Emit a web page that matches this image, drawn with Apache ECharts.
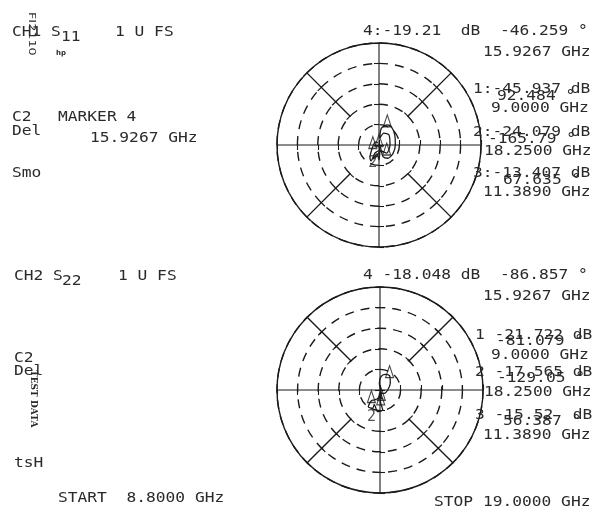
<!DOCTYPE html>
<html>
<head>
<meta charset="utf-8">
<script src="https://cdn.jsdelivr.net/npm/echarts@6/dist/echarts.min.js"></script>
<style>
  html, body { margin: 0; padding: 0; background: #fff; }
  #chart { width: 594px; height: 515px; }
</style>
</head>
<body>
<div id="chart"></div>
<script>
// S11 trace, 8.8 - 19 GHz (linear magnitude, degrees)
const s11Mag = [0.011, 0.005, 0.036, 0.121, 0.157, 0.160, 0.160, 0.183, 0.216, 0.2135, 0.165, 0.066, 0.127, 0.139,
  0.108, 0.1096, 0.062, 0.121, 0.149, 0.090, 0.147, 0.050, 0.088, 0.175, 0.155, 0.0626, 0.042, 0.022];
const s11Ang = [63, 92.5, -62.7, -71.1, -55.9, -30.7, 0, 32.5, 56.1, 67.6, 82.2, 84, 67.4, 45,
  0, -46.3, -71.6, -104, -113, -102.5, -90, -78.7, -116.6, -116.6, -124.7, -165.8, 135, 116.6];

// S22 trace
const s22Mag = [0.090, 0.082, 0.019, 0.065, 0.130, 0.160, 0.1675, 0.119, 0.075, 0.053, 0.030, 0.1252, 0.196,
  0.212, 0.150, 0.191, 0.198, 0.1323, 0.112, 0.082, 0.050];
const s22Ang = [-70, -81.1, -59.5, 96, 85.7, 72.3, 56.4, 33, 0, -37.5, -100, -86.9, -82.3,
  -96, -111.7, -111.7, -125, -129, -119.7, -101.6, -90];

// markers 1..4
const markerNo = ['1', '2', '3', '4'];
const markerGHz = [9.0, 18.25, 11.389, 15.9267];
const s11MkDb = [-45.937, -24.079, -13.407, -19.21];
const s11MkDeg = [92.484, -165.79, 67.635, -46.259];
const s22MkDb = [-21.722, -17.565, -15.52, -18.048];
const s22MkDeg = [-81.079, -129.05, 56.387, -86.857];

const INK = '#1a1a1a';
const TXT = '#2a2a2a';
const norm = a => (a < 0 ? a + 360 : a);

const polars = [];
const angleAxes = [];
const radiusAxes = [];

const hiddenAngle = {
  axisLine: {show: false}, axisTick: {show: false}, axisLabel: {show: false}, splitLine: {show: false},
};

function addChart(cx, cy, R) {
  const main = polars.length;
  polars.push({center: [cx, cy], radius: R});
  angleAxes.push({
    polarIndex: main, type: 'value', min: 0, max: 360, interval: 90, startAngle: 0, clockwise: false,
    axisLine: {lineStyle: {color: INK, width: 1.4}},
    axisTick: {show: false}, axisLabel: {show: false},
    splitLine: {show: true, lineStyle: {color: INK, width: 1.1}},
  });
  radiusAxes.push({
    polarIndex: main, min: 0, max: 1, interval: 0.2,
    axisLine: {show: false}, axisTick: {show: false}, axisLabel: {show: false},
    splitLine: {show: true, lineStyle: {color: INK, width: 1.4, type: [9, 7]}},
  });
  // ticks along the cross
  [0, 90, 180, 270].forEach(a => {
    const i = polars.length;
    polars.push({center: [cx, cy], radius: R});
    angleAxes.push(Object.assign({polarIndex: i, type: 'value', min: 0, max: 360, startAngle: a}, hiddenAngle));
    radiusAxes.push({
      polarIndex: i, min: 0, max: 1, interval: 0.2,
      axisLine: {show: false}, axisLabel: {show: false}, splitLine: {show: false},
      axisTick: {show: true, length: 5, lineStyle: {color: INK, width: 1.1}},
    });
  });
  // diagonal arms from 0.4 to the rim
  [45, 135, 225, 315].forEach(a => {
    const i = polars.length;
    polars.push({center: [cx, cy], radius: [0.4 * R, R]});
    angleAxes.push(Object.assign({polarIndex: i, type: 'value', min: 0, max: 360, startAngle: a}, hiddenAngle));
    radiusAxes.push({
      polarIndex: i, min: 0.4, max: 1, interval: 0.2,
      axisLine: {show: true, lineStyle: {color: INK, width: 1.4}},
      axisLabel: {show: false}, splitLine: {show: false},
      axisTick: {show: true, length: 5, lineStyle: {color: INK, width: 1.2}},
    });
  });
  return main;
}

const topIdx = addChart(379, 145, 102);
const botIdx = addChart(380, 390, 103);

function trace(mag, ang, idx) {
  return {
    type: 'line', coordinateSystem: 'polar', polarIndex: idx, showSymbol: false, smooth: 0.25,
    lineStyle: {color: INK, width: 1.3}, z: 5,
    data: mag.map((m, i) => [m, norm(ang[i])]),
  };
}

function markers(db, deg, idx) {
  return {
    type: 'scatter', coordinateSystem: 'polar', polarIndex: idx, symbol: 'triangle', symbolSize: [8, 12],
    symbolOffset: [0, -4],
    itemStyle: {color: 'rgba(0,0,0,0)', borderColor: INK, borderWidth: 1.2}, z: 6,
    data: db.map((d, i) => ({
      value: [Math.pow(10, d / 20), norm(deg[i])],
      label: {
        show: i === 1, formatter: markerNo[i], position: 'bottom', distance: 6,
        color: TXT, fontSize: 15, fontFamily: 'DejaVu Sans Mono',
      },
    })),
  };
}

function txt(x, y, s, o) {
  o = o || {};
  return {
    type: 'text', x: x, y: y, scaleX: o.sx || 1.16, rotation: o.rot || 0, z: 10,
    style: {
      text: s, x: 0, y: 0, fill: o.color || TXT, verticalAlign: 'middle', align: 'left',
      font: (o.weight || 'normal') + ' ' + (o.size || 14) + 'px ' + (o.family || '"DejaVu Sans Mono", monospace'),
    },
  };
}

function readout(yTop, db, deg, sep) {
  return [
    txt(363, yTop, '4' + sep + db[3] + (sep === ':' ? '  dB  ' : ' dB  ') + deg[3].toFixed(3) + ' °'),
    txt(483, yTop + 21, markerGHz[3].toFixed(4) + ' GHz'),
  ];
}

// y of the dB line for markers 1..3
const rowTop = [89, 132, 173];
const rowBot = [335, 372, 415];

const graphic = [
  txt(12, 32, 'CH1 S'), txt(61, 37, '11'), txt(115, 32, '1 U FS'),
  txt(31, 12, 'FI2110', {rot: -Math.PI / 2, size: 8, sx: 1.6, family: 'DejaVu Sans'}),
  txt(56, 53, 'hp', {size: 7, sx: 1, weight: 'bold', family: 'DejaVu Sans'}),
  txt(12, 117, 'C2'), txt(12, 131, 'Del'), txt(58, 117, 'MARKER 4'), txt(90, 138, '15.9267 GHz'),
  txt(12, 173, 'Smo'),
  txt(14, 276, 'CH2 S'), txt(62, 281, '22'), txt(118, 276, '1 U FS'),
  txt(14, 358, 'C2'), txt(14, 371, 'Del'),
  txt(33, 370, 'TEST DATA', {rot: -Math.PI / 2, size: 9, sx: 1, weight: 'bold', family: '"DejaVu Serif", serif'}),
  txt(14, 463, 'tsH'),
  txt(58, 498, 'START  8.8000 GHz'),
  txt(434, 502, 'STOP 19.0000 GHz'),
].concat(readout(31, s11MkDb, s11MkDeg, ':'), readout(275, s22MkDb, s22MkDeg, ' '));

// right hand marker readouts 1..3
const degX = [497, 488, 503];
const degXb = [496, 497, 503];
const ghzX = [491, 484, 483];
[0, 1, 2].forEach(i => {
  const yt = rowTop[i];
  graphic.push(txt(473, yt, markerNo[i] + ':' + s11MkDb[i] + ' dB'));
  graphic.push(txt(degX[i], yt + 7, String(s11MkDeg[i]) + ' °'));
  graphic.push(txt(ghzX[i], yt + 19, markerGHz[i].toFixed(4) + ' GHz'));
  const yb = rowBot[i];
  graphic.push(txt(475, yb, markerNo[i] + ' ' + s22MkDb[i] + (i === 2 ? '  dB' : ' dB')));
  graphic.push(txt(degXb[i], yb + 6, String(s22MkDeg[i]) + ' °'));
  graphic.push(txt(ghzX[i], yb + 20, markerGHz[i].toFixed(4) + ' GHz'));
});

const chart = echarts.init(document.getElementById('chart'));
chart.setOption({
  backgroundColor: '#fff',
  animation: false,
  polar: polars,
  angleAxis: angleAxes,
  radiusAxis: radiusAxes,
  series: [
    trace(s11Mag, s11Ang, topIdx),
    markers(s11MkDb, s11MkDeg, topIdx),
    trace(s22Mag, s22Ang, botIdx),
    markers(s22MkDb, s22MkDeg, botIdx),
  ],
  graphic: graphic,
});
</script>
</body>
</html>
